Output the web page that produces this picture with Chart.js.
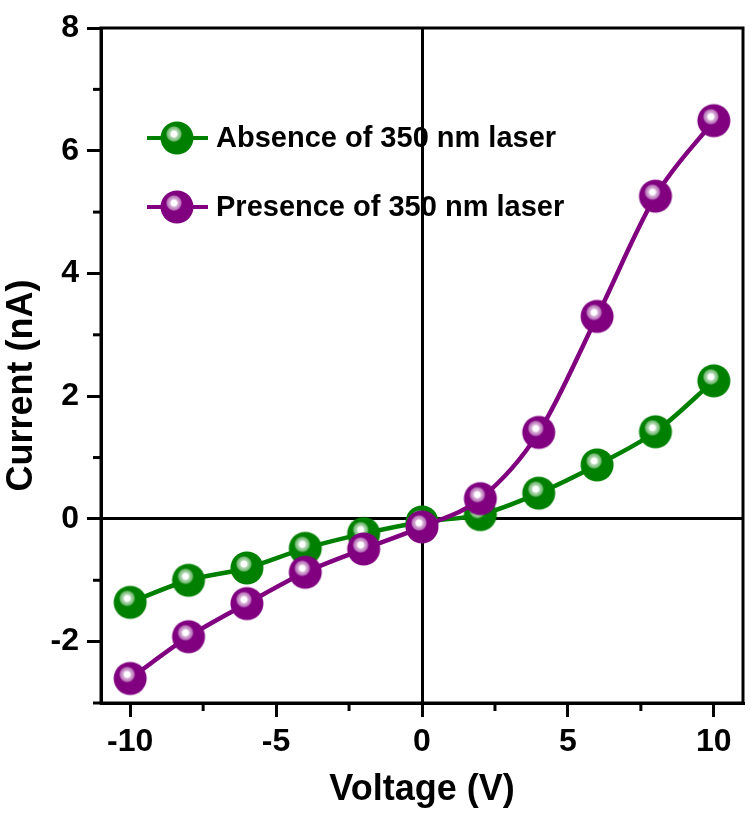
<!DOCTYPE html>
<html>
<head>
<meta charset="utf-8">
<script src="https://cdn.jsdelivr.net/npm/chart.js@4"></script>
<style>
  html, body { margin: 0; padding: 0; background: #fff; overflow: hidden; }
  #wrap { width: 750px; height: 814px; }
  #ivChart { display: block; }
</style>
</head>
<body>
<div id="wrap"><canvas id="ivChart"></canvas></div>
<script>
// I-V data
const voltage = [-10, -8, -6, -4, -2, 0, 2, 4, 6, 8, 10];
const absence = [-1.36, -1.0, -0.80, -0.48, -0.24, -0.05, 0.07, 0.42, 0.88, 1.42, 2.25];
const presence = [-2.6, -1.92, -1.38, -0.87, -0.49, -0.13, 0.33, 1.41, 3.30, 5.26, 6.49];
const seriesNames = ['Absence of 350 nm laser', 'Presence of 350 nm laser'];

const GREEN = '#008000';
const PURPLE = '#800080';

//shaded ball marker
function ball(colour) {
    const c = document.createElement('canvas');
    c.width = 36; c.height = 36;
    const g = c.getContext('2d');
    g.beginPath();
    g.arc(18, 18, 16.5, 0, Math.PI * 2);
    g.fillStyle = colour;
    g.fill();
    const hl = g.createRadialGradient(15, 14, 0, 15, 14, 8);
    hl.addColorStop(0, 'rgba(255,255,255,1)');
    hl.addColorStop(0.35, 'rgba(255,255,255,1)');
    hl.addColorStop(0.5, 'rgba(255,255,255,0.7)');
    hl.addColorStop(0.85, 'rgba(255,255,255,0.45)');
    hl.addColorStop(1, 'rgba(255,255,255,0.1)');
    g.beginPath();
    g.arc(15, 14, 8, 0, Math.PI * 2);
    g.fillStyle = hl;
    g.fill();
    return c;
}
const greenBall = ball(GREEN);
const purpleBall = ball(PURPLE);

function toPoints(ys) {
    return voltage.map((v, i) => ({ x: v, y: ys[i] }));
}

//frame, minor ticks and in-plot legend
const extras = {
    id: 'extras',
    afterDraw(chart) {
        const ctx = chart.ctx;
        const a = chart.chartArea;
        const xs = chart.scales.x, ys = chart.scales.y;
        ctx.save();
        ctx.strokeStyle = '#000';
        ctx.lineWidth = 3;
        ctx.strokeRect(a.left, a.top, a.right - a.left, a.bottom - a.top);

        xs.ticks.forEach(t => {
            if (t.value % 5 !== 0) {
                const px = xs.getPixelForValue(t.value);
                ctx.beginPath();
                ctx.moveTo(px, a.bottom);
                ctx.lineTo(px, a.bottom + 8);
                ctx.stroke();
            }
        });
        ys.ticks.forEach(t => {
            if (t.value % 2 !== 0) {
                const py = ys.getPixelForValue(t.value);
                ctx.beginPath();
                ctx.moveTo(a.left, py);
                ctx.lineTo(a.left - 8, py);
                ctx.stroke();
            }
        });

        const rows = [[GREEN, greenBall, 138], [PURPLE, purpleBall, 207]];
        ctx.font = 'bold 29px "Liberation Sans", Arial, sans-serif';
        ctx.textBaseline = 'middle';
        ctx.fillStyle = '#000';
        rows.forEach((r, i) => {
            ctx.strokeStyle = r[0];
            ctx.lineWidth = 4;
            ctx.beginPath();
            ctx.moveTo(147, r[2]);
            ctx.lineTo(208, r[2]);
            ctx.stroke();
            ctx.drawImage(r[1], 177 - 18, r[2] - 18);
            ctx.fillText(seriesNames[i], 216, r[2] + 1);
        });
        ctx.restore();
    }
};

const chart = new Chart(document.getElementById('ivChart').getContext('2d'), {
    type: 'line',
    data: {
        datasets: [
            {
                label: seriesNames[0],
                data: toPoints(absence),
                borderColor: GREEN,
                backgroundColor: GREEN,
                borderWidth: 4.5,
                pointStyle: greenBall,
                pointRadius: 16,
                cubicInterpolationMode: 'monotone',
                order: 2
            },
            {
                label: seriesNames[1],
                data: toPoints(presence),
                borderColor: PURPLE,
                backgroundColor: PURPLE,
                borderWidth: 4.5,
                pointStyle: purpleBall,
                pointRadius: 16,
                cubicInterpolationMode: 'monotone',
                order: 1
            }
        ]
    },
    options: {
        responsive: true,
        maintainAspectRatio: false,
        animation: false,
        layout: { autoPadding: false, padding: { top: 28, right: 7, left: 0, bottom: 0 } },
        plugins: {
            legend: { display: false },
            tooltip: { enabled: false }
        },
        scales: {
            x: {
                type: 'linear',
                min: -11,
                max: 11,
                afterFit(s) { s.height = 111; },
                border: { display: true, color: '#000', width: 3 },
                grid: {
                    color: c => c.tick && c.tick.value === 0 ? '#000' : 'rgba(0,0,0,0)',
                    lineWidth: 3,
                    tickColor: c => c.tick && c.tick.value % 5 === 0 ? '#000' : 'rgba(0,0,0,0)',
                    tickLength: 14,
                    tickWidth: 3
                },
                ticks: {
                    stepSize: 2.5,
                    includeBounds: false,
                    autoSkip: false,
                    maxRotation: 0,
                    padding: 6,
                    color: '#000',
                    font: { family: '"Liberation Sans", Arial, sans-serif', size: 32, weight: 'bold' },
                    callback: v => (v % 5 === 0 ? v : '')
                },
                title: {
                    display: true,
                    text: 'Voltage (V)',
                    color: '#000',
                    font: { family: '"Liberation Sans", Arial, sans-serif', size: 36, weight: 'bold' },
                    padding: { top: 0, bottom: 2 }
                }
            },
            y: {
                min: -3,
                max: 8,
                afterFit(s) { s.width = 101; },
                border: { display: true, color: '#000', width: 3 },
                grid: {
                    color: c => c.tick && c.tick.value === 0 ? '#000' : 'rgba(0,0,0,0)',
                    lineWidth: 3,
                    tickColor: c => c.tick && c.tick.value % 2 === 0 ? '#000' : 'rgba(0,0,0,0)',
                    tickLength: 14,
                    tickWidth: 3
                },
                ticks: {
                    stepSize: 1,
                    autoSkip: false,
                    padding: 8,
                    color: '#000',
                    font: { family: '"Liberation Sans", Arial, sans-serif', size: 32, weight: 'bold' },
                    callback: v => (v % 2 === 0 ? v : '')
                },
                title: {
                    display: true,
                    text: 'Current (nA)\u00a0\u00a0\u00a0\u00a0',
                    color: '#000',
                    font: { family: '"Liberation Sans", Arial, sans-serif', size: 36, weight: 'bold' },
                    padding: { top: 0, bottom: 8 }
                }
            }
        }
    },
    plugins: [extras]
});
</script>
</body>
</html>
